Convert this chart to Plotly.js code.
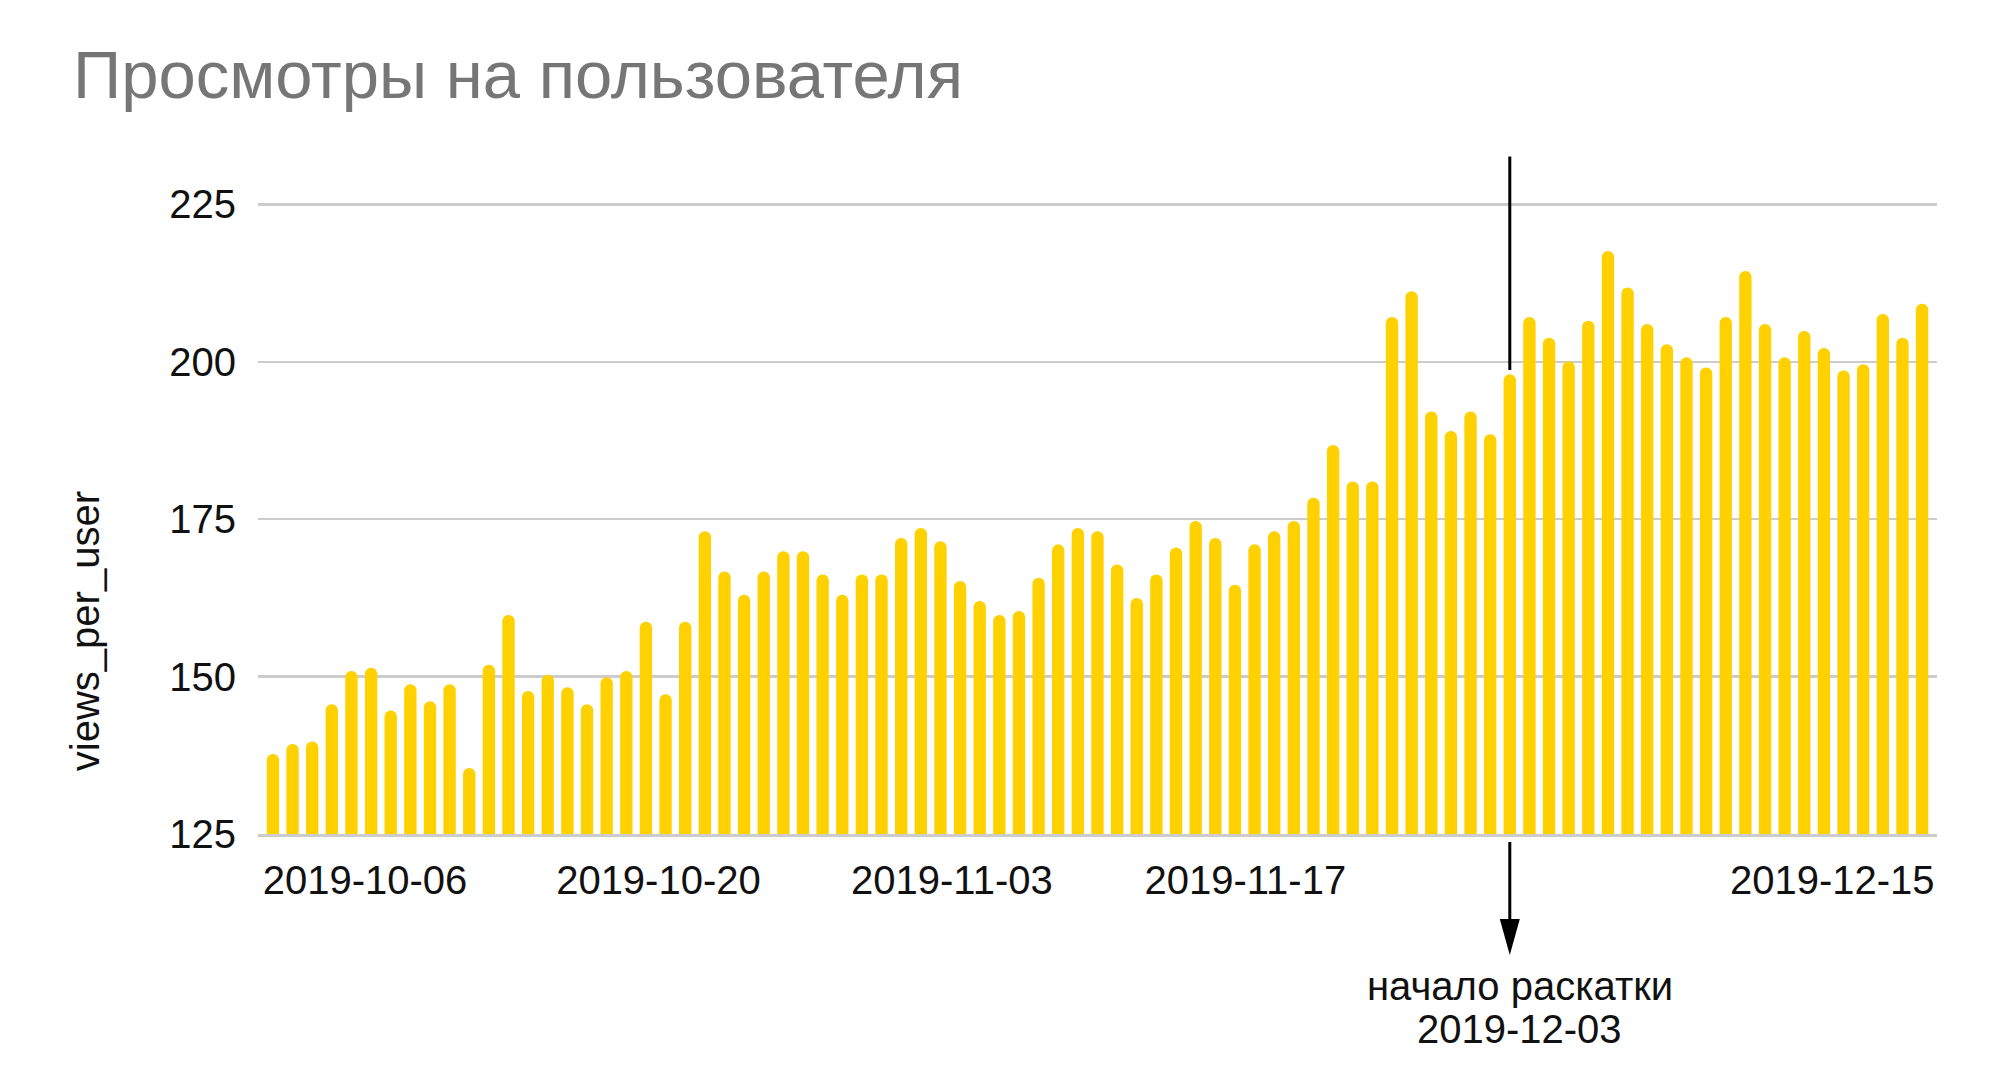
<!DOCTYPE html>
<html>
<head>
<meta charset="utf-8">
<script src="https://cdn.plot.ly/plotly-3.0.1.min.js"></script>
<style>
  html, body { margin: 0; padding: 0; background: #ffffff; }
  #chart { width: 2000px; height: 1076px; }
</style>
</head>
<body>
<div id="chart"></div>
<script>
// ---- data ----
const startDate = '2019-10-01';          // first bar (daily bars)
const viewsPerUser = [
  137.7, 139.3, 139.7, 145.6, 150.9, 151.4, 144.6, 148.8, 146.1, 148.8,
  135.5, 151.9, 159.8, 147.7, 150.3, 148.3, 145.6, 149.9, 150.9, 158.7,
  147.2, 158.7, 173.1, 166.7, 163.0, 166.7, 169.9, 169.9, 166.2, 163.0,
  166.2, 166.2, 172.0, 173.6, 171.5, 165.2, 162.0, 159.8, 160.4, 165.7,
  171.0, 173.6, 173.1, 167.8, 162.5, 166.2, 170.5, 174.7, 172.0, 164.6,
  171.0, 173.1, 174.7, 178.4, 186.8, 181.0, 181.0, 207.1, 211.2, 192.1,
  189.0, 192.1, 188.5, 198.0, 207.1, 203.8, 200.1, 206.5, 217.6, 211.8,
  206.0, 202.8, 200.7, 199.1, 207.1, 214.4, 206.0, 200.7, 204.9, 202.2,
  198.6, 199.6, 207.6, 203.8, 209.2
];
const xTickVals = ['2019-10-06', '2019-10-20', '2019-11-03', '2019-11-17', '2019-12-15'];
const xTickText = ['2019-10-06', '2019-10-20', '2019-11-03', '2019-11-17', '2019-12-15'];
const yTickVals = [125, 150, 175, 200, 225];
const rolloutDate = '2019-12-03';
const rolloutLabel = 'начало раскатки';
const chartTitle = 'Просмотры на пользователя';
const yTitle = 'views_per_user';

// consecutive daily categories
const dates = [];
(function () {
  const d0 = new Date(startDate + 'T00:00:00Z');
  for (let i = 0; i < viewsPerUser.length; i++) {
    const d = new Date(d0.getTime() + i * 86400000);
    dates.push(d.toISOString().slice(0, 10));
  }
})();
const rolloutIdx = dates.indexOf(rolloutDate);
const rolloutValue = viewsPerUser[rolloutIdx];

// ---- style ----
const FONT = 'Liberation Sans, Arial, Helvetica, sans-serif';
const BAR_COLOR = '#FFD100';
const GRID = '#cccccc';
const TXT = '#111111';
const FS = 40;

const traces = [
  {
    type: 'bar',
    x: dates,
    y: viewsPerUser,
    marker: { color: BAR_COLOR, cornerradius: 6, line: { width: 0 } },
    hoverinfo: 'x+y',
    showlegend: false
  },
  {
    // carrier for the date tick axis
    type: 'scatter',
    mode: 'markers',
    x: [xTickVals[0], xTickVals[xTickVals.length - 1]],
    y: [null, null],
    xaxis: 'x2',
    hoverinfo: 'skip',
    showlegend: false
  }
];

const layout = {
  width: 2000,
  height: 1076,
  paper_bgcolor: '#ffffff',
  plot_bgcolor: '#ffffff',
  margin: { l: 258, r: 63, t: 153.6, b: 242, pad: 0 },
  bargap: 0.37,
  font: { family: FONT, color: TXT, size: FS },
  title: {
    text: chartTitle,
    font: { family: FONT, size: 67, color: '#767676' },
    xref: 'container', x: 0.0365, xanchor: 'left',
    yref: 'container', y: 0.931, yanchor: 'middle'
  },
  xaxis: {
    type: 'category',
    range: [-0.76, 84.76],
    showticklabels: false,
    showgrid: false,
    zeroline: false,
    showline: true,
    linecolor: GRID,
    linewidth: 3,
    ticks: ''
  },
  xaxis2: {
    type: 'date',
    overlaying: 'x',
    anchor: 'y',
    side: 'bottom',
    range: ['2019-09-30 21:30', '2019-12-20 00:00'],
    tickmode: 'array',
    tickvals: xTickVals,
    ticktext: xTickText,
    tickfont: { family: FONT, size: FS, color: TXT },
    ticks: '',
    ticklabelstandoff: 19,
    showgrid: false,
    zeroline: false,
    showline: false
  },
  yaxis: {
    range: [125, 233],
    tickmode: 'array',
    tickvals: yTickVals,
    tickfont: { family: FONT, size: FS, color: TXT },
    ticks: '',
    ticklabelstandoff: 21,
    showgrid: true,
    gridcolor: GRID,
    gridwidth: 2.5,
    zeroline: false,
    showline: false
  },
  shapes: [
    {
      type: 'line', xref: 'x', yref: 'y',
      x0: rolloutIdx, x1: rolloutIdx,
      y0: rolloutValue + 0.7, y1: 232.6,
      line: { color: '#000000', width: 3 },
      layer: 'above'
    },
    {
      type: 'line', xref: 'x', yref: 'paper',
      ysizemode: 'pixel', yanchor: 0,
      x0: rolloutIdx, x1: rolloutIdx,
      y0: -8, y1: -88,
      line: { color: '#000000', width: 3 },
      layer: 'above'
    },
    {
      type: 'path', xref: 'x', yref: 'paper',
      ysizemode: 'pixel', yanchor: 0,
      path: 'M' + (rolloutIdx - 0.51) + ',-85 L' + (rolloutIdx + 0.51) + ',-85 L' + rolloutIdx + ',-121 Z',
      fillcolor: '#000000',
      line: { width: 0 },
      layer: 'above'
    }
  ],
  annotations: [
    {
      text: rolloutLabel,
      xref: 'x', x: rolloutIdx, xanchor: 'center', xshift: 10,
      yref: 'paper', y: 0, yanchor: 'middle', yshift: -152,
      showarrow: false,
      font: { family: FONT, size: FS, color: TXT }
    },
    {
      text: rolloutDate,
      xref: 'x', x: rolloutIdx, xanchor: 'center', xshift: 10,
      yref: 'paper', y: 0, yanchor: 'middle', yshift: -195,
      showarrow: false,
      font: { family: FONT, size: FS, color: TXT }
    },
    {
      text: yTitle,
      textangle: -90,
      xref: 'paper', x: -0.1030, xanchor: 'center',
      yref: 'paper', y: 0.2984, yanchor: 'middle',
      showarrow: false,
      font: { family: FONT, size: FS, color: TXT }
    }
  ]
};

Plotly.newPlot('chart', traces, layout, { displayModeBar: false, staticPlot: true });
</script>
</body>
</html>
